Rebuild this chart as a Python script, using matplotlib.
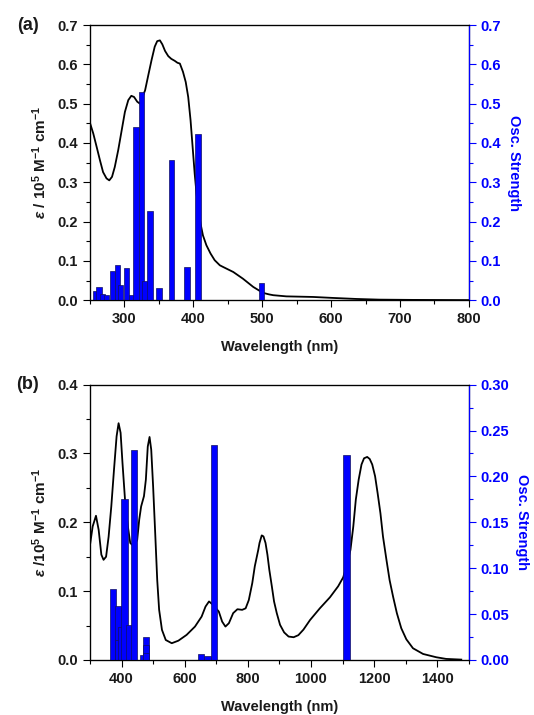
import numpy as np
import matplotlib.pyplot as plt
from matplotlib.ticker import MultipleLocator

plt.rcParams['font.family'] = ['Liberation Sans', 'DejaVu Sans']
plt.rcParams['font.weight'] = 'bold'
plt.rcParams['axes.labelweight'] = 'bold'
plt.rcParams['font.size'] = 10.5
plt.rcParams['mathtext.fontset'] = 'custom'
plt.rcParams['mathtext.rm'] = 'Liberation Sans:bold'
plt.rcParams['mathtext.bf'] = 'Liberation Sans:bold'
plt.rcParams['mathtext.it'] = 'Liberation Sans:italic'

# (a) absorption spectrum
wl_a = [250, 254.8, 259.7, 264.5, 269, 274, 278, 282, 286, 291, 296, 300.7,
        305.6, 310, 314, 318.6, 322.5, 330, 334.6, 339.4, 344, 347.6, 351.5,
        355, 359, 363.6, 368, 373, 377, 380.5, 385, 389, 392.6, 396, 399,
        402, 404.7, 407.6, 410.5, 414, 419, 425, 431, 438.5, 443, 458, 472,
        487, 501, 510, 516, 535, 574, 603, 637, 670, 719, 800]
eps_a = [0.451, 0.424, 0.390, 0.356, 0.326, 0.310, 0.305, 0.314, 0.339,
         0.382, 0.432, 0.479, 0.509, 0.520, 0.517, 0.505, 0.500, 0.534,
         0.572, 0.611, 0.645, 0.659, 0.661, 0.651, 0.634, 0.621, 0.614,
         0.609, 0.604, 0.602, 0.581, 0.555, 0.517, 0.458, 0.390, 0.322,
         0.271, 0.229, 0.195, 0.165, 0.140, 0.119, 0.102, 0.089, 0.085,
         0.072, 0.055, 0.034, 0.019, 0.015, 0.013, 0.010, 0.0085, 0.006,
         0.0034, 0.0017, 0.001, 0.0005]
# (a) computed transitions
tr_a = [258, 263, 268, 274, 283, 290, 294, 303, 311, 317, 325, 330, 337.5,
        350, 368, 391, 407, 499]
osc_a = [0.023, 0.034, 0.017, 0.013, 0.075, 0.091, 0.038, 0.082, 0.013, 0.441,
         0.530, 0.050, 0.227, 0.032, 0.358, 0.085, 0.424, 0.044]

# (b) absorption spectrum
wl_b = [301, 308.5, 319, 327.5, 336, 343, 351, 359, 367.5, 376, 384.3,
        390.6, 397, 403, 411.7, 420, 427.5, 439, 449.6, 456, 462, 471, 477,
        483, 488.7, 494, 500, 506.6, 513, 519, 528, 540, 559, 580, 606,
        632.6, 653.6, 666, 677, 690, 708, 718.6, 729, 740, 753.5, 767, 782,
        793, 803, 814, 822, 833, 837, 844, 849.5, 856, 862, 868, 876, 883,
        891.6, 902, 915, 929, 945, 960, 976, 997, 1028, 1060, 1086, 1102,
        1112, 1125, 1134, 1142, 1151, 1160, 1168, 1178, 1186, 1194, 1203,
        1211, 1220, 1228, 1239, 1249, 1260, 1272, 1286, 1302, 1323, 1355,
        1397, 1428, 1476]
eps_b = [0.170, 0.194, 0.2095, 0.189, 0.153, 0.1455, 0.150, 0.179, 0.223,
         0.276, 0.325, 0.344, 0.330, 0.286, 0.228, 0.194, 0.170, 0.165,
         0.1746, 0.204, 0.223, 0.238, 0.262, 0.310, 0.324, 0.3055, 0.252,
         0.184, 0.116, 0.073, 0.0437, 0.029, 0.0243, 0.028, 0.0364, 0.0485,
         0.063, 0.0776, 0.085, 0.080, 0.0703, 0.0557, 0.0485, 0.0534, 0.068,
         0.0737, 0.0728, 0.075, 0.087, 0.1116, 0.136, 0.160, 0.170, 0.181,
         0.1795, 0.170, 0.153, 0.131, 0.107, 0.085, 0.068, 0.051, 0.040,
         0.034, 0.033, 0.036, 0.044, 0.058, 0.075, 0.091, 0.107, 0.120,
         0.135, 0.160, 0.194, 0.233, 0.262, 0.284, 0.293, 0.295, 0.292,
         0.284, 0.267, 0.2425, 0.213, 0.1795, 0.1455, 0.116, 0.092, 0.068,
         0.046, 0.030, 0.017, 0.0087, 0.0039, 0.0015, 0.0005]
# (b) computed transitions
tr_b = [372.6, 390.5, 388, 398, 409.5, 423, 439, 467, 478, 478, 478, 651.6,
        672.6, 693.7, 1112.6]
osc_b = [0.077, 0.059, 0.022, 0.036, 0.175, 0.038, 0.229, 0.0055, 0.025,
         0.016, 0.008, 0.006, 0.0044, 0.2345, 0.2236]

blue = '#0000ff'
text_col = '#1a1a1a'

fig = plt.figure(figsize=(5.34, 7.15), dpi=100)


def make_panel(rect, wl, eps, tr, osc, bar_w, xlim, xmaj, xmin,
               ylim1, ymaj1, ylim2, ymaj2, ylab, tag):
    ax = fig.add_axes(rect)
    ax.plot(wl, eps, color='black', lw=1.3)
    ax.set_xlim(*xlim)
    ax.set_ylim(*ylim1)
    ax.xaxis.set_major_locator(MultipleLocator(xmaj))
    ax.xaxis.set_minor_locator(MultipleLocator(xmin))
    ax.yaxis.set_major_locator(MultipleLocator(ymaj1))
    ax.yaxis.set_minor_locator(MultipleLocator(ymaj1 / 2))
    ax.yaxis.set_major_formatter(lambda v, p: '%.1f' % v)
    ax.tick_params(which='both', direction='out', top=False, width=0.8,
                   colors='black', labelcolor=text_col, labelsize=10.5)
    ax.tick_params(which='major', length=5)
    ax.tick_params(which='minor', length=3)
    for s in ax.spines.values():
        s.set_linewidth(0.9)
    ax.set_xlabel('Wavelength (nm)', fontsize=10.5, color=text_col,
                  labelpad=10)
    ax.set_ylabel(ylab, fontsize=11, color=text_col, labelpad=6)

    ax2 = ax.twinx()
    ax2.bar(tr, osc, width=bar_w, color=blue, edgecolor='#101060', lw=0.5)
    ax2.set_ylim(*ylim2)
    ax2.yaxis.set_major_locator(MultipleLocator(ymaj2))
    ax2.yaxis.set_minor_locator(MultipleLocator(ymaj2 / 2))
    nd = 1 if ymaj2 >= 0.1 else 2
    ax2.yaxis.set_major_formatter(lambda v, p: '%.*f' % (nd, v))
    ax2.tick_params(which='both', direction='out', colors=blue, width=0.8,
                    labelsize=10.5)
    ax2.tick_params(which='major', length=5)
    ax2.tick_params(which='minor', length=3)
    ax2.spines['right'].set_color(blue)
    ax2.spines['right'].set_linewidth(0.9)
    ax2.set_ylabel('Osc. Strength', color=blue, fontsize=10.5,
                   rotation=270, labelpad=14)
    fig.text(0.052, rect[1] + rect[3], tag, fontsize=13, color=text_col,
             ha='center', va='center')
    return ax, ax2


eps_label_a = r'$\varepsilon$ / 10$^{5}$ M$^{-1}$ cm$^{-1}$'
eps_label_b = r'$\varepsilon$ /10$^{5}$ M$^{-1}$ cm$^{-1}$'

make_panel([0.1685, 0.580, 0.7095, 0.385], wl_a, eps_a, tr_a, osc_a, 8,
           (250, 800), 100, 50, (0, 0.7), 0.1, (0, 0.7), 0.1,
           eps_label_a, '(a)')
make_panel([0.1685, 0.077, 0.7095, 0.385], wl_b, eps_b, tr_b, osc_b, 20,
           (300, 1500), 200, 100, (0, 0.4), 0.1, (0, 0.3), 0.05,
           eps_label_b, '(b)')

fig.savefig('out.png', dpi=100)
